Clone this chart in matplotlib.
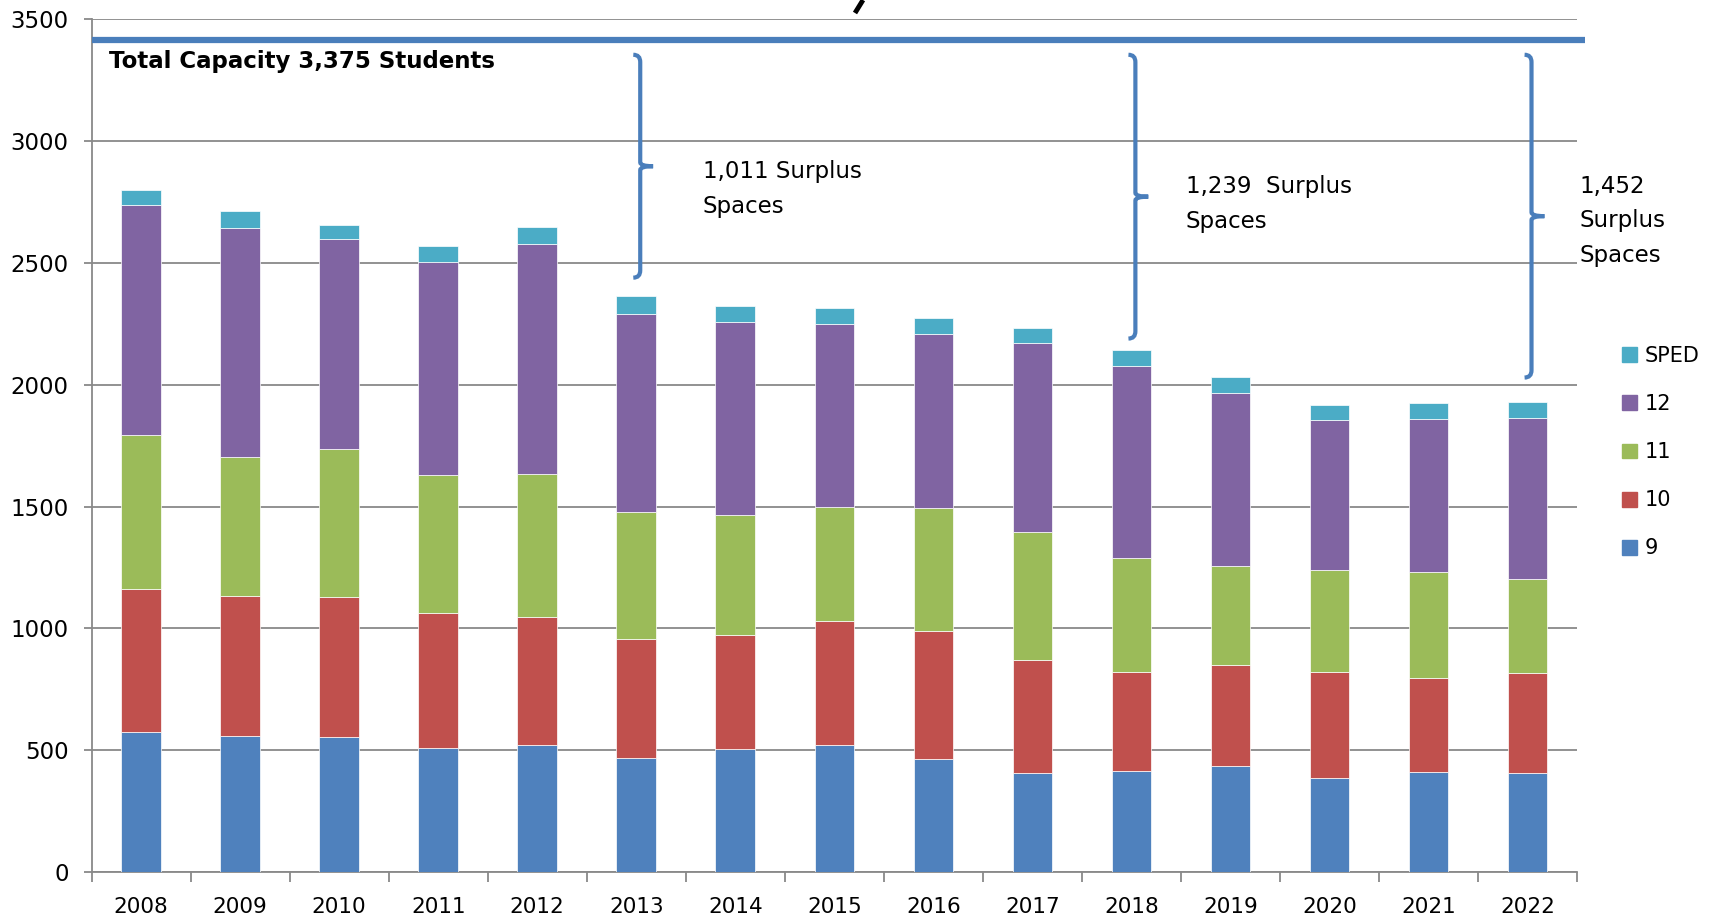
import matplotlib
matplotlib.use("Agg")
import matplotlib.pyplot as plt
from matplotlib.patches import PathPatch, Patch
from matplotlib.path import Path
from matplotlib.lines import Line2D
import numpy as np

plt.rcParams.update({"font.family": "DejaVu Sans", "font.size": 15})

years = [str(y) for y in range(2008, 2023)]
grade9 = [574, 558, 555, 511, 521, 469, 505, 522, 466, 407, 415, 434, 385, 410, 406]
grade10 = [589, 576, 572, 553, 525, 487, 470, 507, 523, 465, 405, 414, 435, 388, 411]
grade11 = [633, 568, 609, 567, 588, 520, 491, 471, 507, 524, 470, 409, 418, 434, 387]
grade12 = [941, 941, 861, 872, 945, 814, 792, 751, 714, 775, 788, 710, 616, 628, 659]
sped = [63, 69, 60, 68, 68, 74, 64, 66, 65, 64, 65, 64, 65, 65, 65]

series = [("9", grade9, "#4F81BD"), ("10", grade10, "#C0504D"),
          ("11", grade11, "#9BBB59"), ("12", grade12, "#8064A2"),
          ("SPED", sped, "#4BACC6")]

CAPACITY = 3375
CAP_LINE = 3415          # where the capacity rule is drawn in the original
surplus_labels = ["1,011 Surplus\nSpaces", "1,239  Surplus\nSpaces", "1,452\nSurplus\nSpaces"]
brace_year = [5, 10, 14]           # bar index each brace sits over
brace_bottom = [2440, 2190, 2030]
BLUE = "#4A7EBB"
GRID = "#898989"

fig = plt.figure(figsize=(17.09, 9.22), dpi=100)
ax = fig.add_axes([0.0536, 0.0542, 0.8692, 0.9247])

x = np.arange(len(years))
bottom = np.zeros(len(years))
for name, vals, col in series:
    ax.bar(x, vals, width=0.4, bottom=bottom, color=col, edgecolor="white",
           linewidth=0.5, zorder=3)
    bottom += np.array(vals)

ax.set_xlim(-0.5, len(years) - 0.5)
ax.set_ylim(0, 3500)
ax.set_yticks(range(0, 3501, 500))
ax.yaxis.grid(True, color=GRID, lw=1.3, zorder=0)
ax.set_axisbelow(True)
for s in ("top", "right"):
    ax.spines[s].set_visible(False)
for s in ("left", "bottom"):
    ax.spines[s].set_color(GRID)
    ax.spines[s].set_linewidth(1.3)
ax.set_xticks(x)
ax.set_xticklabels(years)
ax.set_xticks(np.arange(-0.5, len(years)), minor=True)
ax.tick_params(axis="x", which="major", length=0, pad=18, labelsize=15.5)
ax.tick_params(axis="x", which="minor", length=7, width=1.3, color=GRID)
ax.tick_params(axis="y", length=6, width=1.3, color=GRID, pad=10.5, labelsize=16.5)

# capacity rule and label
ax.plot([-0.5, len(years) - 0.42], [CAP_LINE, CAP_LINE], color=BLUE, lw=4.5,
        clip_on=False, zorder=4, solid_capstyle="butt")
ax.text(-0.32, 3326, f"Total Capacity {CAPACITY:,} Students", fontsize=16.5,
        fontweight="bold", va="center", ha="left")


def brace(x0, yt, yb, h=0.07, t=0.13, r=30, rm=16):
    ym = (yt + yb) / 2
    verts = [(x0 - h, yt), (x0, yt), (x0, yt - r), (x0, ym + rm),
             (x0, ym), (x0 + t, ym), (x0, ym), (x0, ym - rm),
             (x0, yb + r), (x0, yb), (x0 - h, yb)]
    codes = [Path.MOVETO, Path.CURVE3, Path.CURVE3, Path.LINETO,
             Path.CURVE3, Path.CURVE3, Path.CURVE3, Path.CURVE3,
             Path.LINETO, Path.CURVE3, Path.CURVE3]
    ax.add_patch(PathPatch(Path(verts, codes), fill=False, ec=BLUE, lw=3,
                           clip_on=False, zorder=4, capstyle="butt"))


for i, b in zip(brace_year, brace_bottom):
    brace(i + 0.04, 3355, b)

ax.text(5.67, 2805, surplus_labels[0], fontsize=16.5, va="center", ha="left", linespacing=1.66)
ax.text(10.55, 2741, surplus_labels[1], fontsize=16.5, va="center", ha="left", linespacing=1.66)
ax.text(14.52, 2673, surplus_labels[2], fontsize=16.5, va="center", ha="left", linespacing=1.66)

# legend (reverse order, SPED on top)
handles = [Patch(color=c, label=n) for n, v, c in series][::-1]
fig.legend(handles=handles, loc="upper left", bbox_to_anchor=(1622 / 1709, 1 - 346 / 922),
           frameon=False, fontsize=15, handlelength=0.72, handleheight=0.72,
           handletextpad=0.35, labelspacing=1.35, borderaxespad=0, borderpad=0)

# tail of the cut-off title glyph at the top edge
fig.add_artist(Line2D([863 / 1709, 855 / 1709], [1.0, 1 - 13 / 922], color="black",
                      lw=3.5, transform=fig.transFigure, solid_capstyle="butt"))

fig.savefig("out.png", dpi=100)
